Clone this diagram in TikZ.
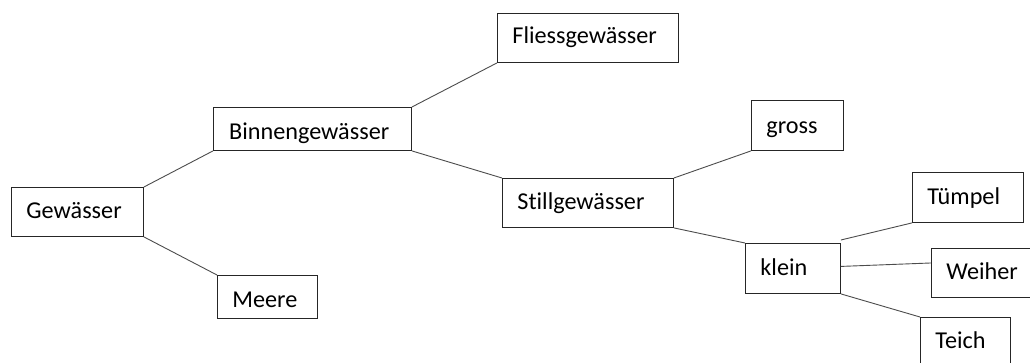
\documentclass[tikz,border=0pt]{standalone}
\usepackage{fontspec}
\setmainfont[Ligatures=NoCommon]{Carlito}
\usetikzlibrary{calc}
\begin{document}
\begin{tikzpicture}[x=1pt,y=-1pt,
  box/.style={draw=black!85, line width=0.9pt, rectangle, anchor=north west,
    inner xsep=15pt, inner ysep=0pt, align=left,
    font=\fontsize{24.2}{28}\selectfont},
  txt/.style={inner sep=0pt, font=\fontsize{24.2}{28}\selectfont},
  link/.style={draw=black!70, line width=0.9pt}]
\useasboundingbox (0,0) rectangle (1030,362);
\clip (0,0) rectangle (1030,362);
\node[box, text width=102pt, text height=31pt, text depth=18pt] (gew) at (11,187) {Gewässer};
\node[box, minimum width=198pt, minimum height=43pt, inner xsep=0pt] (binnen) at (213,107) {};
\begin{scope}
  \clip (binnen.north west) rectangle ([yshift=7pt]binnen.south east);
  \node[txt, anchor=base west] (binnentext) at ([xshift=16pt,yshift=-32pt]binnen.north west) {Binnengewässer};
\end{scope}
\node[box, text width=70pt, text height=32pt, text depth=11pt] (meere) at (217,275) {Meere};
\node[box, text width=151pt, text height=30pt, text depth=19pt] (fliess) at (497,13) {Fliessgewässer};
\node[box, text width=141pt, text height=31pt, text depth=18pt] (still) at (502,178) {Stillgewässer};
\node[box, text width=62pt, text height=33pt, text depth=17pt] (gross) at (751,100) {gross};
\node[box, text width=65pt, text height=32pt, text depth=18pt] (klein) at (745,243) {klein};
\node[box, text width=81pt, text height=32pt, text depth=18pt] (tuempel) at (912,172) {Tümpel};
\node[box, text width=100pt, text height=31pt, text depth=18pt] (weiher) at (931,248) {Weiher};
\node[box, text width=60pt, text height=31pt, text depth=30pt] (teich) at (920,317) {Teich};
\draw[link] (gew.north east) -- (binnen.south west);
\draw[link] (gew.south east) -- (meere.north west);
\draw[link] (binnen.north east) -- (fliess.south west);
\draw[link] (binnen.south east) -- (still.north west);
\draw[link] (still.north east) -- (gross.south west);
\draw[link] (still.south east) -- (klein.north west);
\draw[link] ([yshift=3pt]klein.north east) -- (tuempel.south west);
\draw[link] ($(klein.north east)!0.46!(klein.south east)$) -- ($(weiher.north west)!0.3!(weiher.south west)$);
\draw[link] (klein.south east) -- (teich.north west);
\end{tikzpicture}
\end{document}
